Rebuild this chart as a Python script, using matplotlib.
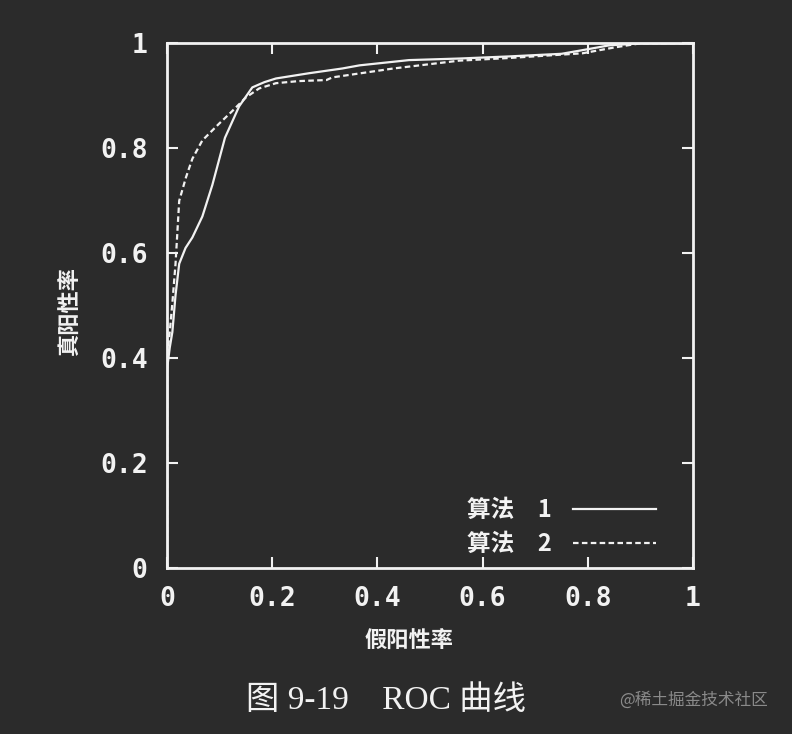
import matplotlib
matplotlib.use('Agg')
from matplotlib import pyplot as plt

# ROC 曲线数据
fpr1 = [0, 0, 0.005, 0.01, 0.016, 0.023, 0.035, 0.048, 0.067, 0.086, 0.11, 0.137, 0.162, 0.185, 0.207,
        0.27, 0.333, 0.366, 0.46, 0.556, 0.65, 0.75, 0.79, 0.84, 0.9, 1.0]
tpr1 = [0, 0.38, 0.42, 0.45, 0.52, 0.58, 0.61, 0.63, 0.67, 0.73, 0.82, 0.88, 0.916, 0.926, 0.933,
        0.943, 0.952, 0.958, 0.968, 0.971, 0.975, 0.98, 0.987, 0.996, 1.0, 1.0]

fpr2 = [0, 0, 0.005, 0.01, 0.016, 0.023, 0.036, 0.048, 0.067, 0.1, 0.122, 0.15, 0.175, 0.207, 0.25,
        0.303, 0.314, 0.43, 0.556, 0.65, 0.79, 0.85, 0.9, 1.0]
tpr2 = [0, 0.4, 0.45, 0.505, 0.58, 0.70, 0.745, 0.78, 0.815, 0.848, 0.869, 0.897, 0.914, 0.924, 0.928,
        0.93, 0.935, 0.952, 0.967, 0.972, 0.981, 0.992, 1.0, 1.0]

ticks = [0, 0.2, 0.4, 0.6, 0.8, 1]
tick_labels = ['0', '0.2', '0.4', '0.6', '0.8', '1']
names = ['算法 1', '算法 2']

bg = '#2b2b2b'
fg = '#f2f2f2'
cjk = ['Noto Sans CJK SC', 'DejaVu Sans']

fig = plt.figure(figsize=(7.92, 7.34), dpi=100, facecolor=bg)
ax = fig.add_axes([0.211, 0.226, 0.664, 0.715], facecolor=bg)

ax.plot(fpr1, tpr1, color=fg, lw=1.6, label=names[0])
ax.plot(fpr2, tpr2, color=fg, lw=1.6, ls=(0, (2.5, 1.5)), label=names[1])

ax.set_xlim(0, 1)
ax.set_ylim(0, 1)
ax.set_xticks(ticks)
ax.set_yticks(ticks)
ax.set_xticklabels(tick_labels, family='DejaVu Sans Mono', weight='bold', fontsize=19)
ax.set_yticklabels(tick_labels, family='DejaVu Sans Mono', weight='bold', fontsize=19)
ax.tick_params(direction='in', length=8, width=1.5, colors=fg, top=True, right=True)
ax.tick_params(axis='x', pad=13)
ax.tick_params(axis='y', pad=14)
for s in ax.spines.values():
    s.set_color(fg)
    s.set_linewidth(2)

ax.set_xlabel('假阳性率', family=cjk, weight='bold', fontsize=16, color=fg)
ax.xaxis.set_label_coords(0.46, -0.115)
ax.set_ylabel('真阳性率', family=cjk, weight='bold', fontsize=16, color=fg)
ax.yaxis.set_label_coords(-0.165, 0.49)

leg = ax.legend(loc='lower right', bbox_to_anchor=(0.97, -0.017), frameon=False, markerfirst=False,
                handlelength=3.5, handletextpad=0.9, labelspacing=0.4,
                prop={'family': cjk, 'weight': 'bold', 'size': 17})
for t in leg.get_texts():
    t.set_text(t.get_text().replace(' ', '\u3000'))
    t.set_color(fg)

fig.text(0.487, 0.046, '图 9-19    ROC 曲线', family=['Liberation Serif', 'Noto Sans CJK SC'],
         fontsize=24, color=fg, ha='center', va='center')
fig.text(0.97, 0.046, '@稀土掘金技术社区', family=cjk, fontsize=12, color='#8a8a8a',
         ha='right', va='center')

fig.savefig('out.png', dpi=100, facecolor=bg)
